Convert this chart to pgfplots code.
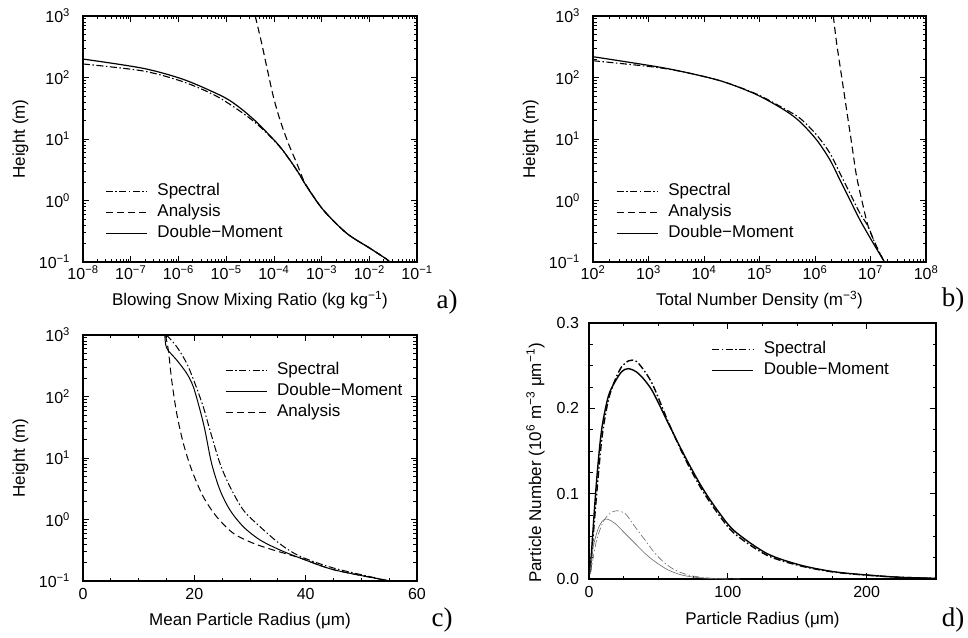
\documentclass[border=0pt]{standalone}
\usepackage{pgfplots}
\pgfplotsset{compat=1.18}
\usepackage{fontspec}
\setmainfont{Liberation Sans}
\newfontfamily\serif{Liberation Serif}

% log tick label 10^k in the text font
\newcommand\logtick{\pgfmathtruncatemacro\ex{round(\tick/ln(10))}10\textsuperscript{\ifnum\ex<0 −\number-\ex\else\ex\fi}}

\pgfplotsset{
  panel/.style={
    scale only axis, width=334pt, height=246pt,
    tick align=inside,
    major tick length=6pt, minor tick length=3.5pt,
    axis line style={line width=1.2pt},
    every tick/.style={black, line width=0.7pt},
    tick label style={font=\fontsize{16}{18}\selectfont},
    label style={font=\fontsize{17}{20}\selectfont},
    xlabel style={at={([yshift=-44pt]axis description cs:0.5,0)}, anchor=base},
    ylabel style={at={([xshift=-58pt]axis description cs:0,0.5)}, anchor=base},
    yticklabel style={xshift=-9.5pt},
    /pgf/number format/assume math mode=true,
    legend cell align=left,
    legend style={draw=none, fill=none, inner sep=0pt, column sep=9pt, row sep=2.5pt,
      font=\fontsize{17}{20}\selectfont,
      nodes={inner sep=1pt, text height=12.5pt, text depth=4pt}},
    legend image code/.code={\draw[##1] (0pt,0pt) -- (41pt,0pt);},
  },
}
\tikzset{
  myspec/.style={black, line width=1.1pt, dash pattern=on 7pt off 2.5pt on 1.5pt off 2.5pt},
  myana/.style={black, line width=1.1pt, dash pattern=on 7pt off 4pt},
  mydm/.style={black, line width=1.2pt},
}

\begin{document}
\begin{tikzpicture}
\path[use as bounding box] (0,0) rectangle (968pt,637pt);

% a)
\begin{axis}[panel, at={(83pt,375pt)}, anchor=south west,
  xmode=log, ymode=log, ymin=0.1, ymax=1000,
  xticklabel={\logtick}, yticklabel={\logtick},
  xmin=1e-8, xmax=1e-1,
  xlabel={Blowing Snow Mixing Ratio (kg kg\textsuperscript{−1})},
  ylabel={Height (m)},
  legend style={at={(axis description cs:0.066,0.325)}, anchor=north west}]
\addplot[myspec, smooth] coordinates {
  (1e-8,166) (1.82e-7,127.6) (1.26e-6,85.1) (6.17e-6,50.1) (2.24e-5,26.3)
  (5.13e-5,15.8) (1.346e-4,7.4) (3.02e-4,3.1) (4.90e-4,1.68) (1.089e-3,0.70)
  (3.36e-3,0.293) (1.035e-2,0.167) (2.32e-2,0.1107) (2.63e-2,0.1)};
\addplot[myana, smooth] coordinates {
  (4.07e-5,1000) (5.56e-5,360) (7.08e-5,150) (9.77e-5,48.8) (1.346e-4,20.4)
  (2.01e-4,8.51) (3.02e-4,4.03) (4.17e-4,2.15) (4.90e-4,1.72) (1.089e-3,0.70)
  (3.36e-3,0.293) (1.035e-2,0.167) (2.32e-2,0.1107) (2.63e-2,0.1)};
\addplot[mydm, smooth] coordinates {
  (1e-8,199.5) (1.82e-7,141) (1.26e-6,93.3) (6.17e-6,55.3) (1.205e-5,42.0)
  (2.24e-5,29.5) (3.63e-5,21.4) (5.13e-5,16.6) (1.346e-4,7.50) (3.02e-4,3.13)
  (4.90e-4,1.68) (1.089e-3,0.700) (3.36e-3,0.293) (1.035e-2,0.167)
  (2.32e-2,0.1107) (2.63e-2,0.1)};
\legend{Spectral, Analysis, Double−Moment}
\end{axis}

% b)
\begin{axis}[panel, at={(593pt,375pt)}, anchor=south west, width=333pt,
  xmode=log, ymode=log, ymin=0.1, ymax=1000,
  xticklabel={\logtick}, yticklabel={\logtick},
  xmin=1e2, xmax=1e8,
  xlabel={Total Number Density (m\textsuperscript{−3})},
  ylabel={Height (m)},
  legend style={at={(axis description cs:0.069,0.325)}, anchor=north west}]
\addplot[myspec, smooth] coordinates {
  (100,187.5) (1403,146) (5598,117) (22284,85.5) (89125,53.7) (2.818e5,30.9)
  (5.37e5,21.7) (1.072e6,11.6) (1.862e6,5.85) (2.818e6,2.77) (4.266e6,1.31)
  (6.457e6,0.619) (9.12e6,0.375) (1.202e7,0.2014) (1.778e7,0.1)};
\addplot[myana, smooth] coordinates {
  (2.138e6,1000) (2.455e6,359.7) (3.02e6,103) (3.715e6,29.5) (4.571e6,8.51)
  (5.623e6,2.438) (7.413e6,0.794) (9.12e6,0.375) (1.288e7,0.178) (1.778e7,0.1)};
\addplot[mydm, smooth] coordinates {
  (100,217.8) (1403,150) (5598,117) (22284,85.5) (89125,52.5) (2.818e5,29.5)
  (5.37e5,19.05) (1.072e6,9.64) (1.862e6,4.56) (2.818e6,2.153) (4.266e6,1.018)
  (6.457e6,0.482) (1.122e7,0.2014) (1.698e7,0.1079) (1.778e7,0.1)};
\legend{Spectral, Analysis, Double−Moment}
\end{axis}

% c)
\begin{axis}[panel, at={(83pt,56pt)}, anchor=south west,
  ymode=log, ymin=0.1, ymax=1000, yticklabel={\logtick},
  xmin=0, xmax=60, xtick={0,20,40,60}, minor x tick num=3,
  xticklabel style={yshift=-4pt},
  xlabel={Mean Particle Radius (μm)},
  ylabel={Height (m)},
  legend style={at={(axis description cs:0.425,0.894)}, anchor=north west}]
\addplot[myspec, line width=1pt, smooth] coordinates {
  (15.0,1000) (16.83,645.7) (18.63,346.7) (20.1,164) (21.6,68.2) (22.8,28.5)
  (24.6,8.18) (26.4,3.42) (28.8,1.426) (31.8,0.764) (35.4,0.40) (39,0.252)
  (45,0.1626) (54.55,0.1023) (55,0.1)};
\addplot[mydm, line width=1pt, smooth] coordinates {
  (14.7,1000) (14.85,700) (15.3,560) (16.83,391.7) (18.63,238.2) (19.81,144.5)
  (21.02,60.3) (21.9,28.5) (23.1,8.18) (24.6,3.02) (26.4,1.426) (28.8,0.764)
  (31.8,0.4645) (35.4,0.319) (39,0.2366) (45,0.1528) (54.55,0.1023) (55,0.1)};
\addplot[myana, line width=1pt, smooth] coordinates {
  (14.8,1000) (15.33,570.2) (15.93,185.4) (16.83,53.3) (18.02,17.38)
  (19.53,6.38) (21.6,2.35) (24.0,1.112) (27.0,0.597) (30.6,0.410) (34.2,0.319)
  (39,0.2366) (45,0.1528) (54.55,0.1023) (55,0.1)};
\legend{Spectral, Double−Moment, Analysis}
\end{axis}

% d)
\begin{axis}[panel, at={(589pt,58pt)}, anchor=south west, width=347pt, height=256pt,
  xmin=0, xmax=250, xtick={0,100,200}, minor x tick num=3,
  ymin=0, ymax=0.3, ytick={0,0.1,0.2,0.3}, minor y tick num=3,
  xticklabel style={yshift=-4pt},
  yticklabel style={xshift=3pt, /pgf/number format/.cd, fixed, fixed zerofill, precision=1},
  xlabel style={at={([yshift=-45pt]axis description cs:0.5,0)}},
  ylabel style={at={([xshift=-48pt]axis description cs:0,0.453)}},
  xlabel={Particle Radius (μm)},
  ylabel={Particle Number (10\textsuperscript{6} m\textsuperscript{−3} μm\textsuperscript{−1})},
  legend style={at={(axis description cs:0.352,0.934)}, anchor=north west}]
\addplot[myspec, line width=1.4pt, smooth] coordinates {
  (1,0.008) (2,0.03) (5.8,0.105) (9.5,0.168) (14,0.21) (18.7,0.233) (23.6,0.249)
  (28.3,0.2555) (31,0.2565) (35.5,0.253) (45.2,0.230) (57.1,0.184) (69.2,0.141)
  (81.2,0.105) (93.2,0.076) (105,0.053) (128,0.028) (152,0.0155) (176,0.0082)
  (200,0.0045) (224,0.002) (250,0.0008)};
\addplot[mydm, line width=1.4pt, smooth] coordinates {
  (1,0.01) (1.9,0.034) (5.5,0.116) (9.1,0.175) (13.9,0.214) (18.7,0.231)
  (23.6,0.243) (28.3,0.2465) (35.5,0.241) (45.2,0.2215) (57.1,0.1825)
  (69.2,0.1433) (81.2,0.108) (93.2,0.079) (105,0.056) (128,0.030) (152,0.0164)
  (176,0.0086) (200,0.0047) (224,0.002) (250,0.0008)};
\addplot[myspec, black!60, line width=0.6pt, smooth, forget plot] coordinates {
  (1,0.006) (1.9,0.0144) (5.5,0.0457) (10.3,0.0672) (15.1,0.077) (19.9,0.080)
  (25.9,0.077) (33.1,0.0613) (40.3,0.0457) (47.6,0.030) (54.8,0.0184)
  (62,0.0105) (71.5,0.0047) (81.2,0.002) (93,0.0005) (110,0)};
\addplot[mydm, black!60, line width=0.6pt, smooth, forget plot] coordinates {
  (0.7,0.0067) (3.1,0.038) (6.7,0.0594) (10.3,0.069) (13.5,0.070) (18.7,0.0652)
  (25.9,0.0535) (33.1,0.0418) (40.3,0.030) (47.6,0.0203) (57.1,0.0105)
  (66.8,0.0047) (76.4,0.002) (88.4,0.0005) (100,0)};
\legend{Spectral, Double−Moment}
\end{axis}

\node[font=\serif\fontsize{27}{30}\selectfont] at (447pt,335pt) {a)};
\node[font=\serif\fontsize{27}{30}\selectfont] at (953pt,337pt) {b)};
\node[font=\serif\fontsize{27}{30}\selectfont] at (442pt,17pt) {c)};
\node[font=\serif\fontsize{27}{30}\selectfont] at (953pt,17pt) {d)};
\end{tikzpicture}
\end{document}
